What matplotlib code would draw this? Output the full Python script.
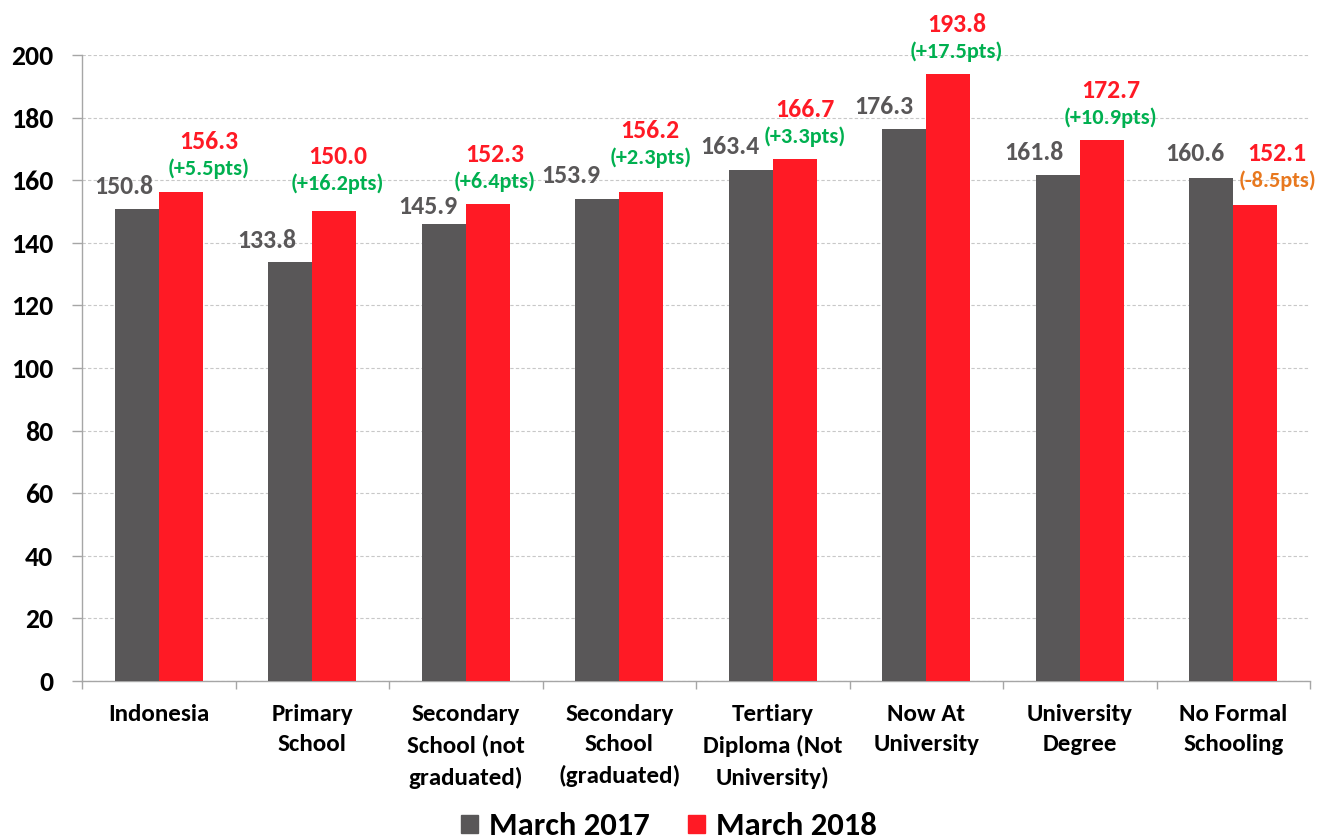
import numpy as np
import matplotlib.pyplot as plt
from matplotlib.patches import Patch

plt.rcParams['font.family'] = ['Carlito', 'DejaVu Sans']
plt.rcParams['font.weight'] = 'bold'

categories = ["Indonesia", "Primary\nSchool", "Secondary\nSchool (not\ngraduated)",
              "Secondary\nSchool\n(graduated)", "Tertiary\nDiploma (Not\nUniversity)",
              "Now At\nUniversity", "University\nDegree", "No Formal\nSchooling"]
march_2017 = [150.8, 133.8, 145.9, 153.9, 163.4, 176.3, 161.8, 160.6]
march_2018 = [156.3, 150.0, 152.3, 156.2, 166.7, 193.8, 172.7, 152.1]
changes = ["+5.5pts", "+16.2pts", "+6.4pts", "+2.3pts", "+3.3pts", "+17.5pts", "+10.9pts", "-8.5pts"]

GRAY = '#595758'
RED = '#FF1A25'
GREEN = '#00B050'
ORANGE = '#E8781E'
AXIS = '#A6A6A6'

# hand-placed label nudges (pixels), as in the original chart
gray_dx = [-13, -24, -16, -27, -21, -20, -24, -16]
gray_dy = [15, 14, 10, 16, 16, 15, 15, 17]
red_dx = [28, 3, 7, 9, 10, 8, 9, 22]
red_dy = [17, 21, 16, 28, 16, 16, 16, 18]

fig = plt.figure(figsize=(13.17, 8.38), dpi=100)
ax = fig.add_axes([0.0623, 0.1874, 0.9324, 0.747])

x = np.arange(len(categories))
w = 0.2866
ax.bar(x - w / 2, march_2017, w, color=GRAY, label="March 2017", zorder=3)
ax.bar(x + w / 2, march_2018, w, color=RED, label="March 2018", zorder=3)

px = 0.72  # points per pixel at dpi 100
for i in range(len(categories)):
    ax.annotate(f"{march_2017[i]:.1f}", (x[i] - w / 2, march_2017[i]),
                xytext=(gray_dx[i] * px, gray_dy[i] * px), textcoords='offset points',
                ha='center', va='baseline', fontsize=18.5, color=GRAY)
    col = GREEN if changes[i].startswith('+') else ORANGE
    ax.annotate(f"({changes[i]})", (x[i] + w / 2, march_2018[i]),
                xytext=(red_dx[i] * px, red_dy[i] * px), textcoords='offset points',
                ha='center', va='baseline', fontsize=16, color=col)
    ax.annotate(f"{march_2018[i]:.1f}", (x[i] + w / 2, march_2018[i]),
                xytext=(red_dx[i] * px, (red_dy[i] + 26) * px), textcoords='offset points',
                ha='center', va='baseline', fontsize=18.5, color=RED)

ax.set_xlim(-0.5, len(categories) - 0.5)
ax.set_ylim(0, 200)
ax.set_yticks(np.arange(0, 201, 20))
ax.yaxis.grid(True, linestyle=(0, (3, 2)), color='#C8C8C8', linewidth=0.8, zorder=0)

ax.set_xticks(x)
ax.set_xticklabels(categories, fontsize=18, linespacing=1.55, va='top')
ax.set_xticks(np.arange(-0.5, len(categories)), minor=True)
ax.tick_params(axis='x', which='major', length=0, pad=23 * px)
ax.tick_params(axis='x', which='minor', length=8 * px, color=AXIS, width=1)
ax.tick_params(axis='y', length=10 * px, color=AXIS, width=1, labelsize=20, pad=19 * px)

for s in ['top', 'right']:
    ax.spines[s].set_visible(False)
for s in ['left', 'bottom']:
    ax.spines[s].set_color(AXIS)
    ax.spines[s].set_linewidth(1)

handles = [Patch(color=GRAY, label="March 2017"), Patch(color=RED, label="March 2018")]
fig.legend(handles=handles, loc='lower center', bbox_to_anchor=(0.508, -0.038), ncol=2,
           frameon=False, prop={'size': 23.5, 'weight': 'bold'},
           handlelength=0.52, handleheight=0.5, handletextpad=0.34, columnspacing=1.17)

fig.savefig("out.png", dpi=100)
plt.close()
